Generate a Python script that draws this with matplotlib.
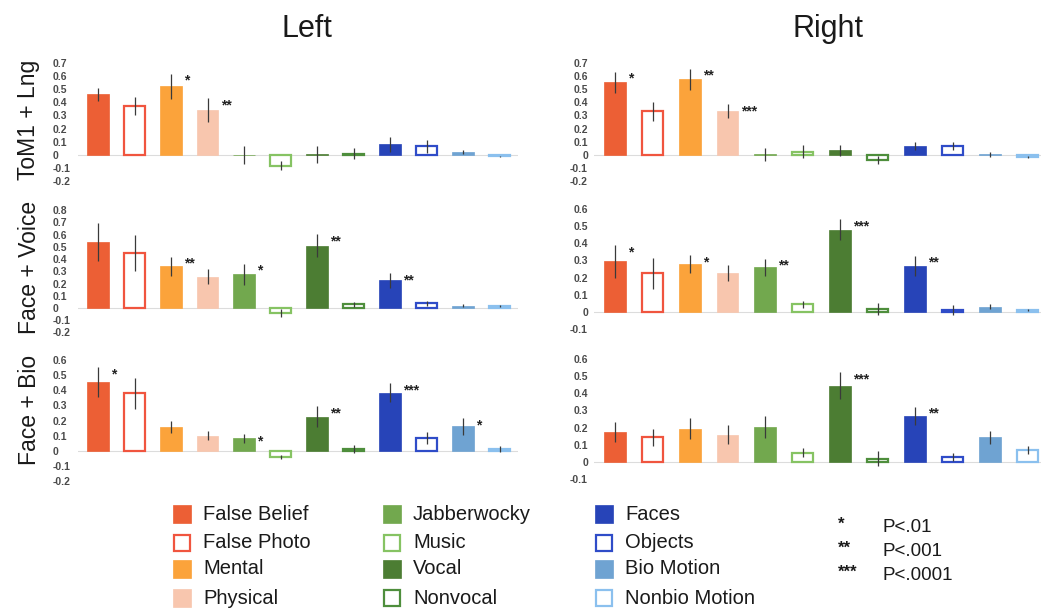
import matplotlib
matplotlib.use("Agg")
import matplotlib.pyplot as plt
from matplotlib.patches import Rectangle
import numpy as np

plt.rcParams["font.family"] = ["Liberation Sans", "DejaVu Sans"]

# ---------------------------------------------------------------- data
categories = ["False Belief", "False Photo", "Mental", "Physical",
              "Jabberwocky", "Music", "Vocal", "Nonvocal",
              "Faces", "Objects", "Bio Motion", "Nonbio Motion"]
colors = ["#EC5F35", "#F0553F", "#FBA33B", "#F8C6AE",
          "#72A84E", "#86C363", "#4C7D33", "#4E8E3C",
          "#2744B8", "#2F4CC8", "#6FA3D2", "#8BC0EE"]
filled = [True, False, True, True, True, False, True, False,
          True, False, True, False]

hemispheres = ["Left", "Right"]
regions = ["ToM1 + Lng", "Face + Voice", "Face + Bio"]

tom_left = [0.46, 0.37, 0.52, 0.34, 0.0, -0.08, 0.005, 0.01, 0.08, 0.065, 0.02, -0.01]
tom_left_err = [0.05, 0.07, 0.095, 0.09, 0.07, 0.035, 0.065, 0.04, 0.055, 0.05, 0.015, 0.005]
tom_left_sig = ["", "", "*", "**", "", "", "", "", "", "", "", ""]

tom_right = [0.55, 0.33, 0.575, 0.333, 0.005, 0.025, 0.035, -0.04, 0.065, 0.065, 0.005, -0.015]
tom_right_err = [0.08, 0.07, 0.08, 0.05, 0.05, 0.05, 0.04, 0.03, 0.03, 0.03, 0.02, 0.01]
tom_right_sig = ["*", "", "**", "***", "", "", "", "", "", "", "", ""]

fv_left = [0.54, 0.447, 0.34, 0.257, 0.276, -0.04, 0.51, 0.03, 0.225, 0.04, 0.02, 0.015]
fv_left_err = [0.155, 0.145, 0.078, 0.065, 0.085, 0.03, 0.095, 0.02, 0.06, 0.02, 0.01, 0.01]
fv_left_sig = ["", "", "**", "", "*", "", "**", "", "**", "", "", ""]

fv_right = [0.295, 0.225, 0.28, 0.228, 0.26, 0.045, 0.48, 0.015, 0.27, 0.01, 0.03, 0.01]
fv_right_err = [0.095, 0.09, 0.05, 0.045, 0.05, 0.02, 0.06, 0.035, 0.058, 0.03, 0.015, 0.005]
fv_right_sig = ["*", "", "*", "", "**", "", "***", "", "**", "", "", ""]

fb_left = [0.453, 0.38, 0.16, 0.10, 0.083, -0.04, 0.226, 0.015, 0.385, 0.083, 0.163, 0.015]
fb_left_err = [0.10, 0.10, 0.04, 0.03, 0.03, 0.015, 0.07, 0.025, 0.06, 0.04, 0.055, 0.02]
fb_left_sig = ["*", "", "", "", "*", "", "**", "", "***", "", "*", ""]

fb_right = [0.175, 0.145, 0.195, 0.16, 0.205, 0.055, 0.445, 0.02, 0.27, 0.03, 0.145, 0.07]
fb_right_err = [0.06, 0.05, 0.06, 0.055, 0.065, 0.025, 0.077, 0.045, 0.052, 0.025, 0.038, 0.025]
fb_right_sig = ["", "", "", "", "", "", "***", "", "**", "", "", ""]

sig_levels = ["*", "**", "***"]
sig_labels = ["P<.01", "P<.001", "P<.0001"]

panels = [
    [(tom_left, tom_left_err, tom_left_sig), (tom_right, tom_right_err, tom_right_sig)],
    [(fv_left, fv_left_err, fv_left_sig), (fv_right, fv_right_err, fv_right_sig)],
    [(fb_left, fb_left_err, fb_left_sig), (fb_right, fb_right_err, fb_right_sig)],
]
# y tick ranges per panel (low, high)
tick_ranges = [[(-0.2, 0.7), (-0.2, 0.7)],
               [(-0.2, 0.8), (-0.1, 0.6)],
               [(-0.2, 0.6), (-0.1, 0.6)]]

# ---------------------------------------------------------------- layout
W, H = 1041, 613
fig = plt.figure(figsize=(W / 100, H / 100), dpi=100)

# column geometry: (first bar centre px, px per bar, xlim)
col_geo = [(98.0, 36.5, (-0.55, 11.5)), (615.0, 37.5, (-0.55, 11.35))]
# row geometry per panel: (zero px, px per unit)
row_geo = [[(155, 132.0), (155, 132.0)],
           [(308, 122.5), (312, 171.7)],
           [(451, 151.7), (462, 171.7)]]


def add_px_axes(left, top, right, bottom):
    return fig.add_axes([left / W, 1 - bottom / H, (right - left) / W, (bottom - top) / H])


def fmt_tick(v):
    if abs(v) < 1e-9:
        return "0"
    return f"{v:.1f}"


x = np.arange(len(categories))
for r in range(3):
    for c in range(2):
        vals, errs, sig = panels[r][c]
        x0, step, xlim = col_geo[c]
        zero_px, ppu = row_geo[r][c]
        lo, hi = tick_ranges[r][c]
        ylim = (lo - 0.02, hi + 0.02)
        left = x0 + xlim[0] * step
        right = x0 + xlim[1] * step
        top = zero_px - ylim[1] * ppu
        bottom = zero_px - ylim[0] * ppu
        ax = add_px_axes(left, top, right, bottom)
        ax.set_xlim(*xlim)
        ax.set_ylim(*ylim)
        for s in ax.spines.values():
            s.set_visible(False)
        ax.set_xticks([])
        ticks = np.round(np.arange(lo, hi + 0.001, 0.1), 1)
        ax.set_yticks(ticks)
        ax.set_yticklabels([fmt_tick(t) for t in ticks])
        if c == 0:
            ax.tick_params(axis="y", length=0, pad=18.5)
            for lab in ax.get_yticklabels():
                lab.set_horizontalalignment("left")
        else:
            ax.tick_params(axis="y", length=0, pad=4.6)
        for lab in ax.get_yticklabels():
            lab.set_fontsize(7.5)
            lab.set_fontweight("bold")
            lab.set_color("#4a4a4a")

        ax.axhline(0, color="#dcdcdc", lw=0.8, zorder=0)
        for i in range(len(categories)):
            if filled[i]:
                ax.bar(x[i], vals[i], width=0.58, color=colors[i],
                       edgecolor=colors[i], linewidth=0.5, zorder=2)
            else:
                ax.bar(x[i], vals[i], width=0.55, facecolor="white",
                       edgecolor=colors[i], linewidth=1.6, zorder=2)
        ax.errorbar(x, vals, yerr=errs, fmt="none", ecolor="#3a3a3a",
                    elinewidth=0.9, capsize=0, zorder=3)
        for i, s in enumerate(sig):
            if s:
                ax.annotate(s, xy=(x[i] + 0.36, vals[i] + errs[i]),
                            xytext=(0, -8), textcoords="offset points",
                            ha="left", va="baseline", fontsize=10,
                            fontweight="bold", color="#222222",
                            annotation_clip=False)

# column titles
for name, cx in zip(hemispheres, [307, 828]):
    fig.text(cx / W, 1 - 29 / H, name, ha="center", va="center",
             fontsize=22, color="#1a1a1a")

# row labels
for name, cy in zip(regions, [120, 267, 410]):
    fig.text(29 / W, 1 - cy / H, name, ha="center", va="center",
             rotation=90, fontsize=16.5, color="#1a1a1a")

# ---------------------------------------------------------------- legend
lax = fig.add_axes([0, 0, 1, 1], facecolor="none")
lax.set_xlim(0, W)
lax.set_ylim(H, 0)
lax.axis("off")

sq = 18
col_x = [173, 383, 595]
row_y = [514, 543, 569, 598]
for k, name in enumerate(categories):
    cx = col_x[k // 4]
    cy = row_y[k % 4]
    if filled[k]:
        lax.add_patch(Rectangle((cx, cy - sq / 2), sq, sq, facecolor=colors[k],
                                edgecolor=colors[k], linewidth=0.5))
    else:
        lax.add_patch(Rectangle((cx + 1, cy - sq / 2 + 1), sq - 2, sq - 2,
                                facecolor="white", edgecolor=colors[k], linewidth=1.6))
    lax.text(cx + 30, cy, name, ha="left", va="center", fontsize=14.5,
             color="#1a1a1a")

for k, (st, lab) in enumerate(zip(sig_levels, sig_labels)):
    cy = [527, 551, 575][k]
    lax.text(838, cy + 2, st, ha="left", va="baseline", fontsize=12,
             fontweight="bold", color="#1a1a1a")
    lax.text(882, cy, lab, ha="left", va="center", fontsize=13.5,
             color="#1a1a1a")

fig.savefig("out.png", dpi=100)
